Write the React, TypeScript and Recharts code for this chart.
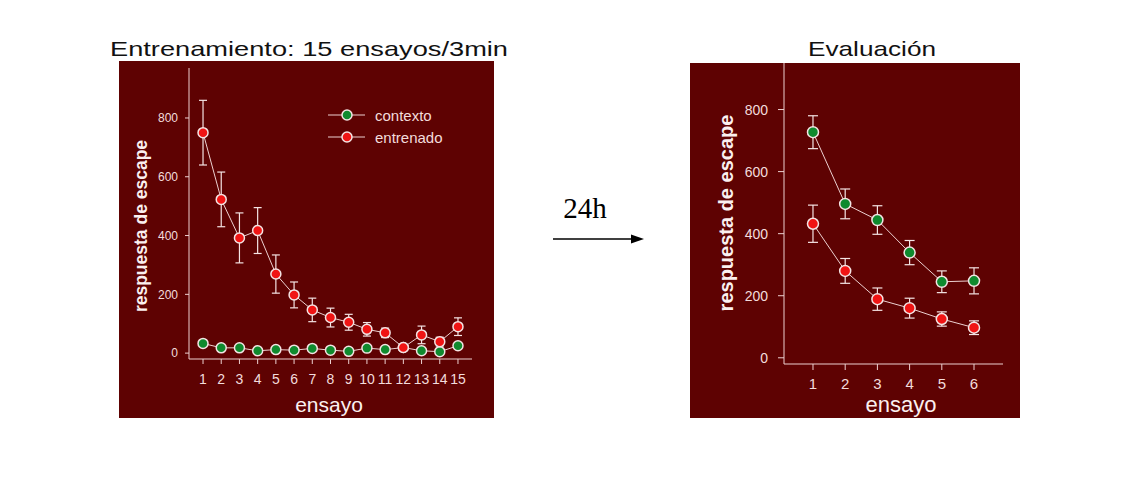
import { LineChart, Line, XAxis, YAxis, ErrorBar, Legend } from 'recharts';

const MAROON = '#5e0202';
const INK = '#f3dcdc';
const AXIS = '#ecd0d0';
const RED = '#f01414';
const GREEN = '#0f8a2e';
const FONT = "'Liberation Sans', Arial, sans-serif";

// Entrenamiento: 15 ensayos
const trainTrials = [1, 2, 3, 4, 5, 6, 7, 8, 9, 10, 11, 12, 13, 14, 15];
const trainContexto = [33, 18, 18, 8, 12, 10, 16, 10, 6, 17, 12, 19, 8, 5, 25];
const trainContextoErr = [6, 5, 5, 4, 4, 4, 5, 4, 4, 5, 4, 5, 4, 3, 6];
const trainEntrenado = [750, 523, 392, 417, 269, 198, 147, 121, 105, 81, 69, 19, 62, 39, 90];
const trainEntrenadoErr = [110, 93, 85, 78, 65, 44, 40, 32, 27, 23, 16, 5, 30, 15, 30];

// Evaluación: 6 ensayos
const evalTrials = [1, 2, 3, 4, 5, 6];
const evalContexto = [727, 496, 444, 339, 245, 248];
const evalContextoErr = [53, 48, 46, 39, 35, 42];
const evalEntrenado = [432, 280, 189, 160, 125, 97];
const evalEntrenadoErr = [60, 40, 36, 32, 23, 22];

const yTicks = [0, 200, 400, 600, 800];

const trainData = trainTrials.map((t, i) => ({
  ensayo: t,
  contexto: trainContexto[i],
  contextoErr: trainContextoErr[i],
  entrenado: trainEntrenado[i],
  entrenadoErr: trainEntrenadoErr[i],
}));

const evalData = evalTrials.map((t, i) => ({
  ensayo: t,
  contexto: evalContexto[i],
  contextoErr: evalContextoErr[i],
  entrenado: evalEntrenado[i],
  entrenadoErr: evalEntrenadoErr[i],
}));

const dotColor: Record<string, string> = { contexto: GREEN, entrenado: RED };

const renderLegend = (props: any) => {
  const payload = props.payload || [];
  return (
    <div style={{ fontFamily: FONT }}>
      {payload.map((p: any) => (
        <div key={p.value} style={{ display: 'flex', alignItems: 'center', height: 22 }}>
          <svg width={37} height={12}>
            <line x1={0} y1={6} x2={37} y2={6} stroke={AXIS} strokeWidth={1} />
            <circle cx={19} cy={6} r={5} fill={dotColor[p.dataKey]} stroke="#f4e4e4" strokeWidth={1.5} />
          </svg>
          <span style={{ marginLeft: 10, color: INK, fontSize: 15 }}>{p.value}</span>
        </div>
      ))}
    </div>
  );
};

// axis titles drawn at fixed spots inside each chart's svg
const yTitle = (x: number, y: number, size: number) => ({
  content: () => (
    <text x={x} y={y} transform={`rotate(-90 ${x} ${y})`} textAnchor="middle"
      fill="#fbf0f0" fontSize={size} fontWeight="bold" fontFamily={FONT}>
      respuesta de escape
    </text>
  ),
});

const xTitle = (x: number, y: number, size: number) => ({
  content: () => (
    <text x={x} y={y} textAnchor="middle" fill="#fbf0f0" fontSize={size} fontFamily={FONT}>
      ensayo
    </text>
  ),
});

const dot = (fill: string, r: number) => ({ r, fill, stroke: '#f4e4e4', strokeWidth: 1.5 });

const series = (r: number, cap: number) => [
  <Line key="c" type="linear" dataKey="contexto" stroke={AXIS} strokeWidth={1}
    dot={dot(GREEN, r)} activeDot={false} isAnimationActive={false}>
    <ErrorBar dataKey="contextoErr" width={cap} stroke="#f4e4e4" strokeWidth={1.2} direction="y" isAnimationActive={false} />
  </Line>,
  <Line key="e" type="linear" dataKey="entrenado" stroke={AXIS} strokeWidth={1}
    dot={dot(RED, r)} activeDot={false} isAnimationActive={false}>
    <ErrorBar dataKey="entrenadoErr" width={cap} stroke="#f4e4e4" strokeWidth={1.2} direction="y" isAnimationActive={false} />
  </Line>,
];

export default function App() {
  return (
    <div style={{ position: 'absolute', left: 0, top: 0, width: 1134, height: 478, background: '#fff' }}>
      <svg width={1134} height={478} style={{ position: 'absolute', left: 0, top: 0 }}>
        <text x={309} y={56} textAnchor="middle" fontSize={21} fontFamily={FONT} fill="#111"
          textLength={398} lengthAdjust="spacingAndGlyphs">
          Entrenamiento: 15 ensayos/3min
        </text>
        <text x={872} y={56} textAnchor="middle" fontSize={21} fontFamily={FONT} fill="#111"
          textLength={128} lengthAdjust="spacingAndGlyphs">
          Evaluación
        </text>
        <text x={585} y={218} textAnchor="middle" fontSize={29}
          fontFamily="'Liberation Serif', 'Times New Roman', serif" fill="#000">
          24h
        </text>
        <line x1={553} y1={239} x2={634} y2={239} stroke="#000" strokeWidth={1.4} />
        <polygon points="644,239 631,234.5 631,243.5" fill="#000" />
      </svg>

      <div style={{ position: 'absolute', left: 119, top: 61, width: 375, height: 357, background: MAROON }}>
        <LineChart width={375} height={357} data={trainData}
          margin={{ top: 7, right: 22, bottom: 19, left: 0 }}>
          <XAxis type="number" dataKey="ensayo" domain={[0.23, 15.77]} ticks={trainTrials}
            interval={0} allowDataOverflow stroke={AXIS} height={40} tickSize={5} tickMargin={10}
            tick={{ fill: INK, fontSize: 14, fontFamily: FONT }} label={xTitle(210, 351, 21)} />
          <YAxis type="number" domain={[-20, 970]} ticks={yTicks} allowDataOverflow stroke={AXIS}
            width={70} tickSize={4} tickMargin={7}
            tick={{ fill: INK, fontSize: 12, fontFamily: FONT }} label={yTitle(28, 165, 17.5)} />
          {series(5, 4)}
          <Legend layout="vertical" align="center" verticalAlign="middle" content={renderLegend}
            wrapperStyle={{ left: 209, top: 43, width: 'auto', height: 'auto' }} />
        </LineChart>
      </div>

      <div style={{ position: 'absolute', left: 690, top: 63, width: 330, height: 355, background: MAROON }}>
        <LineChart width={330} height={355} data={evalData}
          margin={{ top: 0, right: 17, bottom: 14, left: 0 }}>
          <XAxis type="number" dataKey="ensayo" domain={[0.1, 6.9]} ticks={evalTrials}
            interval={0} allowDataOverflow stroke={AXIS} height={40} tickSize={6} tickMargin={8}
            tick={{ fill: INK, fontSize: 15, fontFamily: FONT }} label={xTitle(211, 349, 22)} />
          <YAxis type="number" domain={[-20, 950]} ticks={yTicks} allowDataOverflow stroke={AXIS}
            width={94} tickSize={6} tickMargin={10}
            tick={{ fill: INK, fontSize: 14, fontFamily: FONT }} label={yTitle(43, 150, 20)} />
          {series(5.5, 5)}
        </LineChart>
      </div>
    </div>
  );
}
